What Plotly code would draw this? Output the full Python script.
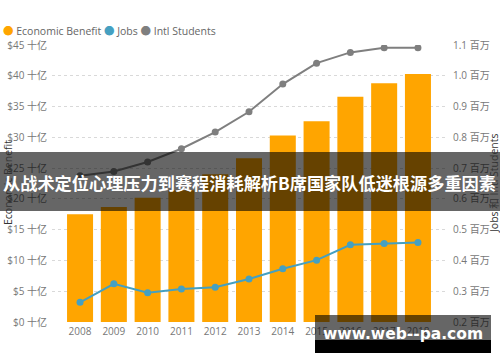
import plotly.graph_objects as go

years = ["2008", "2009", "2010", "2011", "2012", "2013", "2014", "2015", "2016", "2017", "2018"]
economic_benefit = [17.5, 18.7, 20.2, 21.4, 24.0, 26.6, 30.3, 32.6, 36.6, 38.8, 40.3]  # $ billions
jobs = [0.264, 0.324, 0.295, 0.307, 0.313, 0.340, 0.373, 0.401, 0.451, 0.455, 0.458]  # millions
intl_students = [0.675, 0.689, 0.720, 0.763, 0.817, 0.883, 0.973, 1.041, 1.076, 1.091, 1.091]  # millions

left_tickvals = [0, 5, 10, 15, 20, 25, 30, 35, 40, 45]
left_ticktext = ["$0 十亿", "$5 十亿", "$10 十亿", "$15 十亿", "$20 十亿", "$25 十亿",
                 "$30 十亿", "$35 十亿", "$40 十亿", "$45 十亿"]
right_tickvals = [0.2, 0.3, 0.4, 0.5, 0.6, 0.7, 0.8, 0.9, 1.0, 1.1]
right_ticktext = ["0.2 百万", "0.3 百万", "0.4 百万", "0.5 百万", "0.6 百万", "0.7 百万",
                  "0.8 百万", "0.9 百万", "1.0 百万", "1.1 百万"]

title_text = "从战术定位心理压力到赛程消耗解析B席国家队低迷根源多重因素"
watermark_text = "www.web--pa.com"

ORANGE = "#FFA500"
BLUE = "#45A0C1"
GRAY = "#7F7F7F"
FONT = "Segoe UI, Open Sans, Noto Sans, Noto Sans CJK SC, sans-serif"
CJK = "Noto Sans CJK SC, sans-serif"

# pixel geometry helpers
W, H = 500, 362
L, R, T, B = 52, 446, 45, 322
def px(x):
    return (x - L) / (R - L)
def py(y):
    return (B - y) / (B - T)

fig = go.Figure()
fig.add_trace(go.Bar(x=years, y=economic_benefit, name="Economic Benefit",
                     marker=dict(color=ORANGE, line=dict(width=0)), yaxis="y",
                     showlegend=False))
fig.add_trace(go.Scatter(x=years, y=jobs, name="Jobs", mode="lines+markers",
                         line=dict(color=BLUE, width=2), marker=dict(color=BLUE, size=7),
                         yaxis="y2", showlegend=False))
fig.add_trace(go.Scatter(x=years, y=intl_students, name="Intl Students", mode="lines+markers",
                         line=dict(color=GRAY, width=2), marker=dict(color=GRAY, size=7),
                         yaxis="y2", showlegend=False))

fig.update_layout(
    width=W, height=H,
    margin=dict(l=L, r=W - R, t=T, b=H - B, pad=0, autoexpand=False),
    paper_bgcolor="white", plot_bgcolor="white",
    bargap=0.23,
    font=dict(family=FONT, size=10, color="#777777"),
    xaxis=dict(type="category", range=[-0.83, 10.83], showgrid=False, zeroline=False,
               showline=False, ticks="", tickfont=dict(size=10, color="#777777"),
               ticklabelstandoff=2, automargin=False),
    yaxis=dict(range=[0, 45], tickvals=left_tickvals, ticktext=left_ticktext,
               showgrid=True, gridcolor="#D9D9D9", griddash="dot", gridwidth=1,
               zeroline=False, showline=False, ticks="", automargin=False,
               tickfont=dict(size=10, color="#777777"), ticklabelstandoff=4),
    yaxis2=dict(range=[0.2, 1.1], tickvals=right_tickvals, ticktext=right_ticktext,
                overlaying="y", side="right", showgrid=False, zeroline=False,
                showline=False, ticks="", tickfont=dict(size=10, color="#777777"),
                ticklabelstandoff=6, automargin=False),
    showlegend=False,
)

annotations = [
    # legend
    dict(x=px(1), y=py(31), xref="paper", yref="paper", xanchor="left", yanchor="middle",
         showarrow=False, font=dict(family=FONT, size=10.5, color="#666666"),
         text=f"<span style='color:{ORANGE}'>●</span> Economic Benefit "
              f"<span style='color:{BLUE}'>●</span> Jobs "
              f"<span style='color:{GRAY}'>●</span> Intl Students"),
    # axis titles
    dict(x=px(8), y=py(183), xref="paper", yref="paper", xanchor="center", yanchor="middle",
         showarrow=False, textangle=-90, text="Economic Benefit",
         font=dict(family=FONT, size=10.5, color="#333333")),
    dict(x=px(494), y=py(183), xref="paper", yref="paper", xanchor="center", yanchor="middle",
         showarrow=False, textangle=-90, text="Jobs 和 Intl Students",
         font=dict(family=FONT, size=10.5, color="#333333")),
    # banner title
    dict(x=px(250), y=py(182), xref="paper", yref="paper", xanchor="center", yanchor="middle",
         showarrow=False, text=f"<b>{title_text}</b>",
         font=dict(family=CJK, size=17.2, color="white")),
    # watermark
    dict(x=px(403), y=py(334), xref="paper", yref="paper", xanchor="center", yanchor="middle",
         showarrow=False, text=f"<b>{watermark_text}</b>",
         font=dict(family="DejaVu Sans, sans-serif", size=15.5, color="white")),
]

shapes = [
    dict(type="rect", xref="paper", yref="paper", x0=px(0), x1=px(500), y0=py(211), y1=py(152),
         fillcolor="rgba(0,0,0,0.6)", line=dict(width=0), layer="above"),
    dict(type="rect", xref="paper", yref="paper", x0=px(315), x1=px(491), y0=py(340), y1=py(315),
         fillcolor="rgba(0,0,0,0.6)", line=dict(width=0), layer="above"),
    dict(type="rect", xref="paper", yref="paper", x0=px(315), x1=px(491), y0=py(353), y1=py(340),
         fillcolor="black", line=dict(width=0), layer="above"),
]

fig.update_layout(annotations=annotations, shapes=shapes)
fig.write_html("out.html", config={"displayModeBar": False},
               post_script="document.body.style.margin='0';document.body.style.overflow='hidden';")
